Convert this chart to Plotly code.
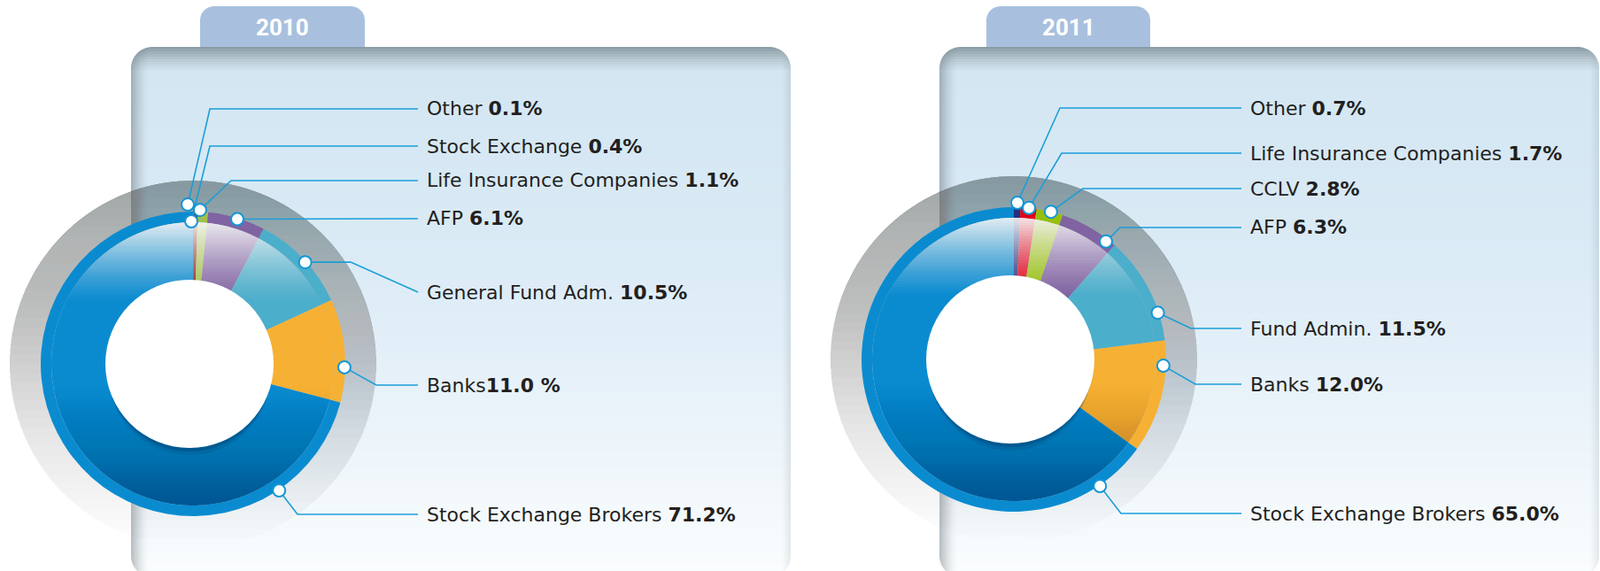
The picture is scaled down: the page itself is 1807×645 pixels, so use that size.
import numpy as np
import plotly.graph_objects as go

W, H = 1807, 645

# ---- data -------------------------------------------------------------
labels_2010 = ["Other", "Stock Exchange", "Life Insurance Companies", "AFP",
               "General Fund Adm.", "Banks", "Stock Exchange Brokers"]
values_2010 = [0.1, 0.4, 1.1, 6.1, 10.5, 11.0, 71.2]
colors_2010 = ["#23307f", "#8c1c13", "#a2c04a", "#8063a3",
               "#4baecb", "#f6b134", "#0a8bd0"]
fmt_2010 = ["{} <b>{:.1f}%</b>"] * 5 + ["{}<b>{:.1f} %</b>", "{} <b>{:.1f}%</b>"]

labels_2011 = ["Other", "Life Insurance Companies", "CCLV", "AFP",
               "Fund Admin.", "Banks", "Stock Exchange Brokers"]
values_2011 = [0.7, 1.7, 2.8, 6.3, 11.5, 12.0, 65.0]
colors_2011 = ["#23307f", "#e2001a", "#97bf0d", "#8063a3",
               "#4baecb", "#f6b134", "#0a8bd0"]
fmt_2011 = ["{} <b>{:.1f}%</b>"] * 7

# ---- layout (pixels) --------------------------------------------------
R_GRAY, R_OUT, R_BAND, R_HOLE = 207, 172, 160, 95
LINE_BLUE = "#1a9ed9"
LABEL_FONT = dict(family="DejaVu Sans", size=22, color="#231f20")

panels = [
    dict(year="2010", labels=labels_2010, values=values_2010, colors=colors_2010, fmt=fmt_2010,
         box=(148, 53, 893, 652), tab=(226, 7, 412), center=(218, 411), line_end=472,
         label_y=[123, 165, 204, 247, 330, 435, 581],
         dot_angle=[-1.9, -0.7, 2.6, 17.0, 47.8, 91.3, 145.8],
         dot_r=[180, 161, 174, 171, 171, 171, 173],
         elbow=[(237, 123), (237, 165), (261, 204), None, (396, None), (425, 435), (336, 581)]),
    dict(year="2011", labels=labels_2011, values=values_2011, colors=colors_2011, fmt=fmt_2011,
         box=(1061, 53, 1806, 652), tab=(1114, 7, 1299), center=(1145, 406), line_end=1402,
         label_y=[122, 173, 213, 257, 371, 434, 580],
         dot_angle=[1.3, 5.7, 14.1, 38.0, 72.0, 92.4, 145.8],
         dot_r=[177, 172, 172, 169, 171, 169, 173],
         elbow=[(1197, 122), (1199, 173), (1223, 213), (1265, 257), (1345, 371), (1350, 434), (1266, 580)]),
]

panel_stops = [(53, (138, 156, 165)), (60, (160, 177, 186)), (68, (186, 203, 213)),
               (80, (211, 230, 242)), (300, (219, 235, 246)), (450, (232, 242, 249)),
               (652, (251, 253, 254))]


def pt(x, y):
    return f"{x / W:.5f},{1 - y / H:.5f}"


def path(points, close=True):
    return "M" + "L".join(pt(x, y) for x, y in points) + ("Z" if close else "")


def arc(cx, cy, r, a0, a1, n=12):
    a = np.radians(np.linspace(a0, a1, n))
    return list(zip(cx + r * np.cos(a), cy + r * np.sin(a)))


def disc_part(cx, cy, r, y0, y1):
    """polygon of a disc cut between two horizontal lines"""
    y0, y1 = max(y0, cy - r), min(y1, cy + r)
    t0 = np.arccos(np.clip((cy - y0) / r, -1, 1))
    t1 = np.arccos(np.clip((cy - y1) / r, -1, 1))
    t = np.linspace(t0, t1, max(6, int(np.degrees(t1 - t0) / 2)))
    left = list(zip(cx - r * np.sin(t), cy - r * np.cos(t)))
    right = list(zip(cx + r * np.sin(t), cy - r * np.cos(t)))[::-1]
    return path(left + right)


def layer_alphas(target):
    """alphas for stacked layers so the summed opacity follows target"""
    out = []
    for j in range(len(target)):
        nxt = target[j + 1] if j + 1 < len(target) else 0.0
        out.append(1 - (1 - target[j]) / (1 - nxt))
    return out


def lerp_color(y, stops):
    ys = [s[0] for s in stops]
    rgb = [np.interp(y, ys, [s[1][i] for s in stops]) for i in range(3)]
    return "rgb({:.0f},{:.0f},{:.0f})".format(*rgb)


def rect(x0, y0, x1, y1, color, layer="below"):
    return dict(type="rect", xref="paper", yref="paper", layer=layer,
                x0=x0 / W, x1=x1 / W, y0=1 - y1 / H, y1=1 - y0 / H,
                fillcolor=color, line=dict(width=0))


def shape_path(p, fill, layer="below", line=None):
    return dict(type="path", xref="paper", yref="paper", layer=layer, path=p,
                fillcolor=fill, line=line or dict(width=0))


def circle(cx, cy, r, fill, layer="above", line=None):
    return dict(type="circle", xref="paper", yref="paper", layer=layer,
                x0=(cx - r) / W, x1=(cx + r) / W, y0=1 - (cy + r) / H, y1=1 - (cy - r) / H,
                fillcolor=fill, line=line or dict(width=0))


fig = go.Figure()
shapes = []
annotations = []

for p in panels:
    x0, y0, x1, y1 = p["box"]
    cx, cy = p["center"]

    # panel background gradient
    shapes.append(rect(x0, y0, x1, y1, lerp_color(y0, panel_stops)))
    for yk in np.arange(y0 + 2, y1, 3):
        shapes.append(rect(x0, yk, x1, y1, lerp_color(yk + 1.5, panel_stops)))
    # edge shading
    n = 10
    tgt = [0.38 * (1 - (j + 0.5) / n) ** 1.5 for j in range(n)]
    for k, a in enumerate(layer_alphas(tgt)):
        shapes.append(rect(x0, y0, x0 + (k + 1) * 2, y1, f"rgba(80,92,100,{a:.4f})"))
    tgt = [0.12 * (1 - (j + 0.5) / 5) for j in range(5)]
    for k, a in enumerate(layer_alphas(tgt)):
        shapes.append(rect(x1 - (k + 1) * 2, y0, x1, y1, f"rgba(80,92,100,{a:.4f})"))
    # rounded corners
    rc = 24
    shapes.append(shape_path(path([(x0, y0)] + arc(x0 + rc, y0 + rc, rc, 180, 270)), "white"))
    shapes.append(shape_path(path([(x1, y0)] + arc(x1 - rc, y0 + rc, rc, 270, 360)), "white"))
    shapes.append(shape_path(path([(x0, y1)] + arc(x0 + rc, y1 - rc, rc, 90, 180)), "white"))
    shapes.append(shape_path(path([(x1, y1)] + arc(x1 - rc, y1 - rc, rc, 0, 90)), "white"))

    # year tab
    tx0, ty0, tx1 = p["tab"]
    rt = 16
    tab_pts = [(tx0, y0)] + arc(tx0 + rt, ty0 + rt, rt, 180, 270) + \
        arc(tx1 - rt, ty0 + rt, rt, 270, 360) + [(tx1, y0)]
    shapes.append(shape_path(path(tab_pts), "#a8c0de"))
    annotations.append(dict(x=(tx0 + tx1) / 2 / W, y=1 - 31 / H, xref="paper", yref="paper",
                            xanchor="center", yanchor="middle",
                            text=f"<b>{p['year']}</b>", showarrow=False,
                            font=dict(family="Roboto", size=26, color="white")))

    # gray halo ring (fades downwards)
    n = 40
    edges = np.linspace(cy - R_GRAY, cy + R_GRAY, n + 1)
    tgt = [0.58 * (1 - (j + 0.5) / n) for j in range(n)]
    for k, a in enumerate(layer_alphas(tgt)):
        shapes.append(shape_path(disc_part(cx, cy, R_GRAY, edges[0], edges[k + 1]),
                                 f"rgba(105,115,121,{a:.4f})"))

    # donut: thin outer band + wide inner band (its hole is drawn as a shape)
    for r, hole in [(R_OUT, R_BAND / R_OUT), (R_BAND, 0.5)]:
        fig.add_trace(go.Pie(
            values=p["values"], labels=p["labels"], sort=False,
            direction="clockwise", rotation=0, hole=hole,
            marker=dict(colors=p["colors"], line=dict(width=0)),
            textinfo="none", hoverinfo="label+percent", showlegend=False,
            domain=dict(x=[(cx - r) / W, (cx + r) / W], y=[1 - (cy + r) / H, 1 - (cy - r) / H]),
        ))

    # light fade on top of the inner band
    n = 30
    edges = np.linspace(cy - R_BAND, cy - 70, n + 1)
    tgt = [0.92 * (1 - (j + 0.5) / n) ** 1.2 for j in range(n)]
    for k, a in enumerate(layer_alphas(tgt)):
        shapes.append(shape_path(disc_part(cx, cy, R_BAND, edges[0], edges[k + 1]),
                                 f"rgba(255,255,255,{a:.4f})", layer="above"))
    # darker shade towards the bottom
    edges = np.linspace(cy + 20, cy + R_BAND, n + 1)
    rev = [0.3 * ((j + 0.5) / n) ** 1.3 for j in range(n)][::-1]
    for k, a in enumerate(layer_alphas(rev)):
        shapes.append(shape_path(disc_part(cx, cy, R_BAND, edges[n - k - 1], edges[-1]),
                                 f"rgba(0,30,60,{a:.4f})", layer="above"))

    # hole with a soft shadow below it
    shapes.append(circle(cx - 4, cy + 11, R_HOLE - 3, "rgba(0,40,80,0.12)"))
    shapes.append(circle(cx - 4, cy + 6, R_HOLE - 2, "rgba(0,40,80,0.26)"))
    shapes.append(circle(cx - 4, cy, R_HOLE, "white"))

    # callouts
    dots = []
    for i, (lab, val) in enumerate(zip(p["labels"], p["values"])):
        th = np.radians(p["dot_angle"][i])
        dx = cx + p["dot_r"][i] * np.sin(th)
        dy = cy - p["dot_r"][i] * np.cos(th)
        ly = p["label_y"][i]
        pts = [(dx, dy)]
        if p["elbow"][i] is not None:
            ex, ey = p["elbow"][i]
            pts.append((ex, dy if ey is None else ey))
        pts.append((p["line_end"], ly))
        shapes.append(shape_path(path(pts, close=False), "rgba(0,0,0,0)", layer="above",
                                 line=dict(color=LINE_BLUE, width=1.6)))
        dots.append((dx, dy))
        annotations.append(dict(x=(p["line_end"] + 8) / W, y=1 - ly / H, xref="paper", yref="paper",
                                xanchor="left", yanchor="middle", showarrow=False,
                                text=p["fmt"][i].format(lab, val), font=LABEL_FONT))
    for dx, dy in dots:
        shapes.append(circle(dx, dy, 7, "white", line=dict(color="#1596d4", width=2)))

fig.update_layout(
    width=W, height=H, margin=dict(l=0, r=0, t=0, b=0),
    paper_bgcolor="white", plot_bgcolor="white",
    shapes=shapes, annotations=annotations, showlegend=False,
)

# page body has a default 8px margin; drop it so the figure fills the window
fig.write_html("out.html", config={"displayModeBar": False},
               post_script="document.body.style.margin='0';")
